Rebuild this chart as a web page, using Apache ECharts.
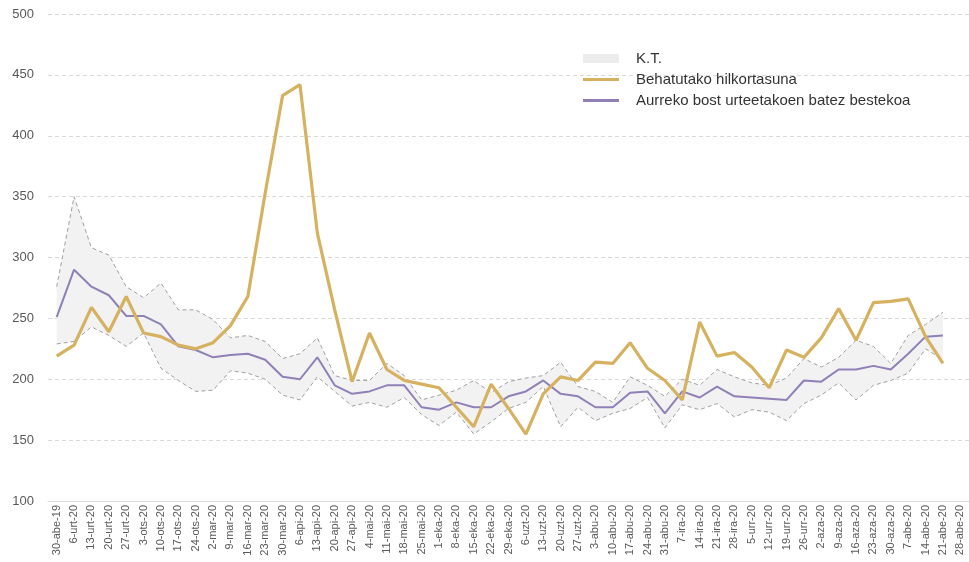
<!DOCTYPE html>
<html>
<head>
<meta charset="utf-8">
<script src="https://cdn.jsdelivr.net/npm/echarts@6/dist/echarts.min.js"></script>
<style>
html,body{margin:0;padding:0;background:#fff;}
#chart{width:969px;height:562px;}
</style>
</head>
<body>
<div id="chart"></div>
<script>
const categories = ['30-abe-19','6-urt-20','13-urt-20','20-urt-20','27-urt-20','3-ots-20','10-ots-20','17-ots-20','24-ots-20','2-mar-20','9-mar-20','16-mar-20','23-mar-20','30-mar-20','6-api-20','13-api-20','20-api-20','27-api-20','4-mai-20','11-mai-20','18-mai-20','25-mai-20','1-eka-20','8-eka-20','15-eka-20','22-eka-20','29-eka-20','6-uzt-20','13-uzt-20','20-uzt-20','27-uzt-20','3-abu-20','10-abu-20','17-abu-20','24-abu-20','31-abu-20','7-ira-20','14-ira-20','21-ira-20','28-ira-20','5-urr-20','12-urr-20','19-urr-20','26-urr-20','2-aza-20','9-aza-20','16-aza-20','23-aza-20','30-aza-20','7-abe-20','14-abe-20','21-abe-20','28-abe-20'];

const observed = [219,228,259,239,268,238,235,228,225,230,244,268,353,433,442,320,257,198,238,208,199,196,193,177,161,196,176,155,188,202,199,214,213,230,209,199,183,247,219,222,210,193,224,218,234,258,232,263,264,266,235,213];

const average = [251,290,276,269,252,252,245,227,224,218,220,221,216,202,200,218,195,188,190,195,195,177,175,181,177,177,186,190,199,188,186,177,177,189,190,172,190,185,194,186,185,184,183,199,198,208,208,211,208,221,235,236];

const upper = [276,350,308,302,276,267,279,257,257,249,234,236,231,217,221,234,203,199,199,213,203,183,187,191,199,189,198,201,203,214,194,190,181,202,195,186,200,195,208,202,197,195,201,217,210,218,232,227,213,236,245,255];

const lower = [229,231,243,236,227,238,209,199,190,191,207,205,200,187,183,202,190,178,181,177,185,171,162,173,155,165,176,181,194,161,177,166,172,176,185,160,179,175,180,169,175,173,166,180,187,197,183,195,199,205,225,216];

const yTicks = {min:100, max:500, interval:50};

const names = ['K.T.','Behatutako hilkortasuna','Aurreko bost urteetakoen batez bestekoa'];

const bandWidth = upper.map((u,i)=>u-lower[i]);

const GOLD = '#d6b160', PURPLE = '#8f80b8';
const lineIcon = 'path://M0,0 L36,0 L36,3 L0,3 Z';

const chart = echarts.init(document.getElementById('chart'));
const dashGrey = {color:'#a0a0a0', width:1, type:[4,3]};
chart.setOption({
  animation:false,
  backgroundColor:'#fff',
  grid:{left:48, right:0, top:14, bottom:61},
  legend:{
    orient:'vertical', left:578, top:46,
    itemWidth:36, itemHeight:9, itemGap:6,
    symbolKeepAspect:true,
    textStyle:{fontFamily:'Liberation Sans, Arial, sans-serif', fontSize:15, color:'#333333', padding:[0,0,0,12]},
    data:[
      {name:names[0], icon:'rect', itemStyle:{color:'#ececec', borderWidth:0}},
      {name:names[1], icon:lineIcon, itemStyle:{color:GOLD, borderWidth:0}},
      {name:names[2], icon:lineIcon, itemStyle:{color:PURPLE, borderWidth:0}}
    ]
  },
  xAxis:{
    type:'category', data:categories, boundaryGap:true,
    axisLine:{lineStyle:{color:'#d9d9d9', width:1}},
    axisTick:{inside:true, length:4, alignWithLabel:true, lineStyle:{color:'#d9d9d9'}},
    axisLabel:{rotate:90, interval:0, fontSize:11, color:'#595959', margin:4, fontFamily:'Liberation Sans, Arial, sans-serif'},
    splitLine:{show:false}
  },
  yAxis:{
    type:'value', min:yTicks.min, max:yTicks.max, interval:yTicks.interval,
    axisLine:{show:false}, axisTick:{show:false},
    axisLabel:{fontSize:13, color:'#595959', margin:14, fontFamily:'Liberation Sans, Arial, sans-serif'},
    splitLine:{lineStyle:{color:'#d9d9d9', width:1, type:[4,3]}}
  },
  series:[
    {name:'lowerBase', type:'line', stack:'band', data:lower, symbol:'none',
     lineStyle:dashGrey, silent:true, z:1},
    {name:names[0], type:'line', stack:'band', data:bandWidth, symbol:'none',
     lineStyle:dashGrey, areaStyle:{color:'#f2f2f2', opacity:1}, itemStyle:{color:'#ececec'}, silent:true, z:0},
    {name:names[2], type:'line', data:average, symbol:'none',
     lineStyle:{color:PURPLE, width:2}, itemStyle:{color:PURPLE}, z:3},
    {name:names[1], type:'line', data:observed, symbol:'none',
     lineStyle:{color:GOLD, width:3.2}, itemStyle:{color:GOLD}, z:4}
  ]
});
</script>
</body>
</html>
